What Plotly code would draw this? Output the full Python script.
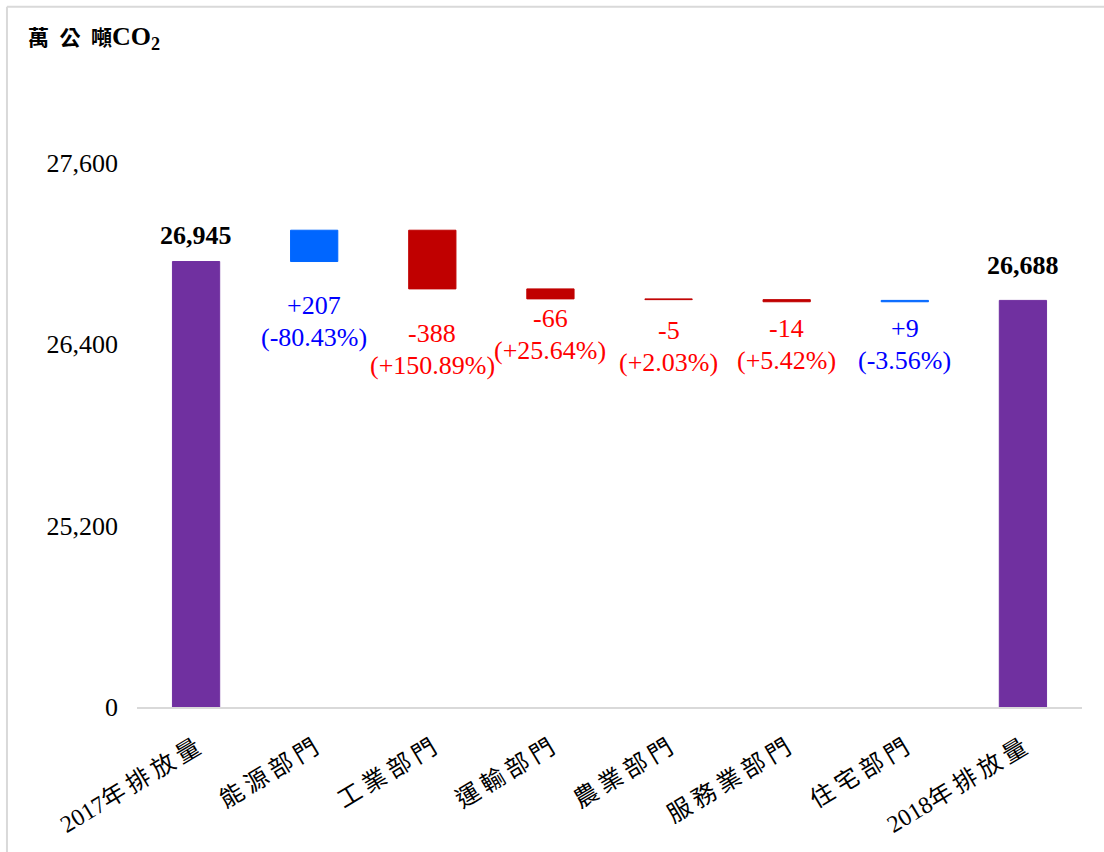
import numpy as np
import plotly.graph_objects as go

# ---------------- data ----------------
categories = ["2017年排放量", "能源部門", "工業部門", "運輸部門",
              "農業部門", "服務業部門", "住宅部門", "2018年排放量"]
start_total = 26945
sector_changes = [207, -388, -66, -5, -14, 9]
end_total = 26688
change_shares = ["-80.43%", "+150.89%", "+25.64%", "+2.03%", "+5.42%", "-3.56%"]
tick_values = [0, 25200, 26400, 27600]
tick_labels = ["0", "25,200", "26,400", "27,600"]
AXIS_BREAK = 24000  # broken axis: the "0" tick is drawn where 24,000 would sit

# ---------------- styling ----------------
PURPLE = "#7030A0"
BLUE_BAR = "#0066FF"
RED_BAR = "#C00000"
BLUE_TXT = "#0000FF"
RED_TXT = "#FF0000"
FONT = "Liberation Serif, 'Noto Sans CJK TC', serif"
label_shift = [-44, -45, -20, -31, -27, -27]  # offset of 1st label line centre below bar (px)
LINE_GAP = 32
total_shift = [10, 18]                        # nudges of the total labels (px)


def to_axis(v):
    return 0 if v <= 0 else v - AXIS_BREAK


def spaced(label):
    out = ""
    for i, ch in enumerate(label):
        out += ch
        if i < len(label) - 1 and ord(ch) > 0x2E80:
            out += "\u2009"
    return out


levels = start_total + np.concatenate([[0], np.cumsum(sector_changes)])
bases, heights, colors = [0], [to_axis(start_total)], [PURPLE]
for i, ch in enumerate(sector_changes):
    lo = min(levels[i], levels[i + 1])
    hi = max(levels[i], levels[i + 1])
    bases.append(to_axis(lo))
    heights.append(hi - lo)
    colors.append(BLUE_BAR if ch > 0 else RED_BAR)
bases.append(0)
heights.append(to_axis(end_total))
colors.append(PURPLE)

fig = go.Figure()
fig.add_trace(go.Bar(
    x=categories, y=heights, base=bases, width=0.40,
    marker=dict(color=colors, line=dict(color=colors, width=1)),
    hoverinfo="skip", showlegend=False,
))

annotations = []
for idx, val, sh in [(0, start_total, total_shift[0]), (len(categories) - 1, end_total, total_shift[1])]:
    annotations.append(dict(
        x=categories[idx], y=to_axis(val), xref="x", yref="y",
        text=f"<b>{val:,}</b>", showarrow=False, yanchor="bottom", yshift=sh,
        font=dict(family=FONT, size=26, color="black"),
    ))
for i, ch in enumerate(sector_changes):
    lo = min(levels[i], levels[i + 1])
    col = BLUE_TXT if ch > 0 else RED_TXT
    for line_no, txt in enumerate([f"{ch:+d}", f"({change_shares[i]})"]):
        annotations.append(dict(
            x=categories[i + 1], y=to_axis(lo), xref="x", yref="y",
            text=txt, showarrow=False, yanchor="middle",
            yshift=label_shift[i] - line_no * LINE_GAP,
            font=dict(family=FONT, size=26, color=col),
        ))
annotations.append(dict(
    x=-0.1175, y=1.067, xref="paper", yref="paper", xanchor="left", yanchor="middle",
    text="<b>萬\u2002公\u2002噸<span style='font-size:26px'>CO<sub>2</sub></span></b>", showarrow=False,
    font=dict(family=FONT, size=21, color="black"),
))

fig.update_layout(
    width=1104, height=852,
    margin=dict(l=137, r=22, t=80, b=145),
    paper_bgcolor="white", plot_bgcolor="white",
    font=dict(family=FONT, color="black"),
    annotations=annotations,
    shapes=[
        dict(type="line", xref="paper", yref="paper", x0=-0.1376, x1=-0.1376, y0=-0.4, y1=1.117,
             line=dict(color="#D9D9D9", width=2)),
        dict(type="line", xref="paper", yref="paper", x0=-0.1376, x1=1.2, y0=1.117, y1=1.117,
             line=dict(color="#D9D9D9", width=2)),
    ],
    xaxis=dict(
        type="category", tickangle=-31, showgrid=False, zeroline=False,
        showline=True, linecolor="#D9D9D9", linewidth=1.5,
        tickvals=categories, ticktext=[spaced(c) for c in categories],
        tickfont=dict(family=FONT, size=24, color="black"),
        ticklabelstandoff=16,
    ),
    yaxis=dict(
        range=[0, 4145], showgrid=False, zeroline=False, showline=False,
        tickvals=[to_axis(v) for v in tick_values], ticktext=tick_labels,
        tickfont=dict(family=FONT, size=26, color="black"),
        ticklabelstandoff=18,
    ),
    bargap=0.59,
)

fig.write_html("out.html")
